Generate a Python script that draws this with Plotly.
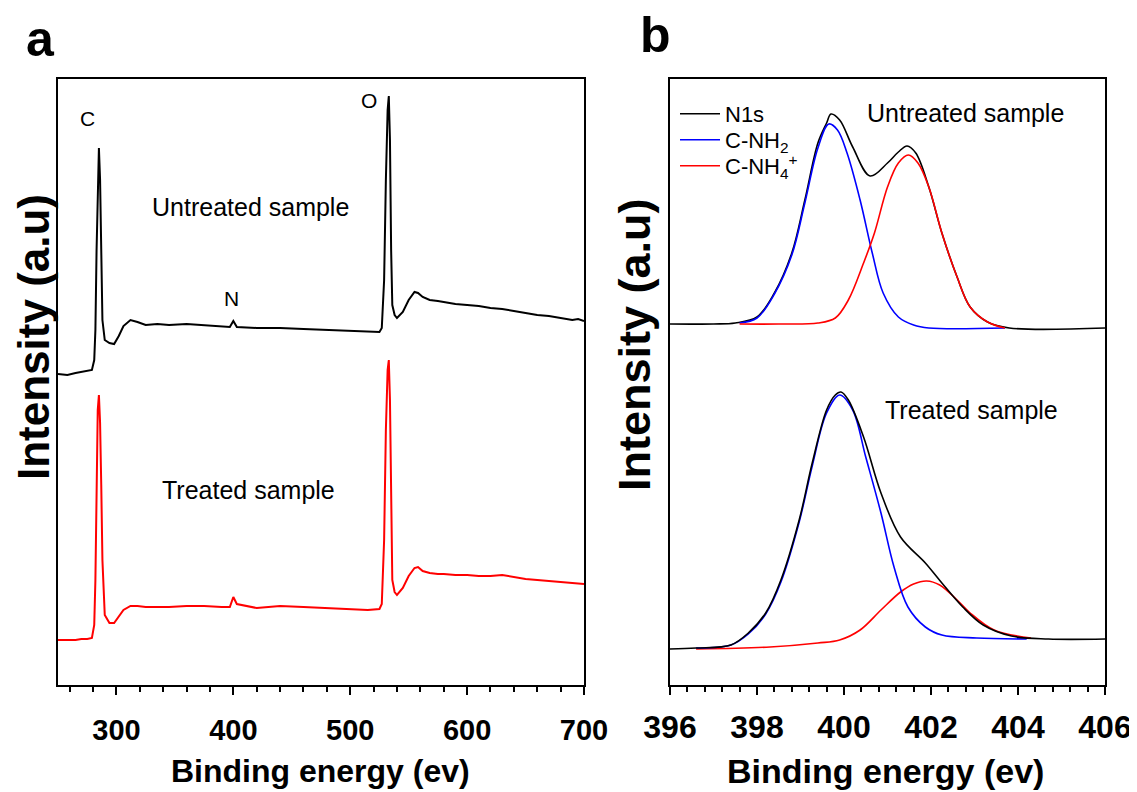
import plotly.graph_objects as go

# ---------------- Panel a: XPS survey ----------------
survey_ev = [250, 258, 265, 270, 275, 279, 281, 282, 283, 284, 285, 286, 287, 288, 290, 294, 298, 302, 306,
             312, 318, 325, 335, 345, 360, 375, 390, 397, 400, 403, 420, 440, 460, 480, 500, 515, 525, 527,
             529, 530.5, 532, 533, 534, 535, 536, 538, 540, 545, 550, 555, 558, 562, 568, 575, 580, 590, 600,
             610, 620, 630, 640, 650, 660, 670, 680, 690, 695, 700]
untreated_survey = [311, 310, 312, 313, 314, 315, 325, 355, 435, 505, 537, 505, 425, 365, 345, 342, 341, 349, 359,
                    365, 363, 360, 361, 360, 361, 360, 359, 358, 364, 358, 357, 357, 356, 355, 354, 353, 353, 357,
                    405, 505, 575, 589, 545, 435, 380, 370, 367, 373, 385, 393, 392, 388, 385, 384, 383, 381, 380,
                    379, 377, 376, 374, 372, 370, 369, 367, 365, 366, 364]
treated_survey = [45, 45, 45, 46, 46, 47, 60, 105, 205, 275, 290, 262, 200, 125, 70, 62, 62, 68, 75,
                  79, 79, 78, 78, 78, 79, 79, 78, 78, 88, 81, 77, 79, 78, 77, 76, 75, 76, 81,
                  145, 255, 315, 325, 285, 185, 105, 93, 90, 97, 109, 117, 118, 114, 112, 111, 111, 110, 110,
                  109, 109, 110, 108, 106, 105, 104, 103, 102, 102, 101]

# ---------------- Panel b: N1s high resolution ----------------
u_n1s_ev = [396.0, 397.0, 397.5, 398.0, 398.4, 398.8, 399.1, 399.4, 399.6, 399.7, 399.9, 400.2, 400.6,
            401.0, 401.25, 401.45, 401.65, 401.95, 402.25, 402.6, 402.9, 403.3, 403.8, 406.0]
u_n1s = [361, 361, 362, 368, 392, 432, 485, 542, 562, 571, 565, 538, 509,
         522, 533, 539, 532, 498, 452, 408, 378, 363, 357, 357]
u_nh2_ev = [397.6, 398.0, 398.4, 398.8, 399.1, 399.4, 399.65, 399.85, 400.07, 400.37, 400.65, 400.9,
            401.25, 401.6, 401.95, 403.7]
u_nh2 = [362, 367, 391, 430, 482, 537, 561, 555, 532, 485, 432, 392, 368, 360, 357, 357]
u_nh4_ev = [397.6, 398.5, 399.4, 399.8, 400.1, 400.45, 400.7, 401.0, 401.25, 401.48, 401.7, 401.95,
            402.25, 402.6, 402.9, 403.3, 403.7]
u_nh4 = [361, 361, 362, 367, 385, 422, 452, 498, 522, 530, 522, 498, 452, 408, 378, 363, 357]

t_n1s_ev = [396.0, 396.6, 397.4, 397.8, 398.2, 398.55, 398.97, 399.27, 399.6, 399.8, 399.93, 400.1, 400.45,
            400.85, 401.3, 401.87, 402.25, 402.73, 403.2, 403.85, 404.7, 406.0]
t_n1s = [36, 37, 40, 52, 72, 105, 165, 222, 275, 290, 293, 285, 248,
         192, 148, 122, 102, 78, 60, 49, 46, 46]
t_nh2_ev = [396.6, 397.4, 397.8, 398.2, 398.55, 398.97, 399.27, 399.6, 399.9, 400.2, 400.5, 400.85,
            401.15, 401.47, 401.87, 402.25, 403.05, 404.2]
t_nh2 = [37, 40, 51, 71, 103, 163, 219, 272, 290, 275, 228, 172, 118, 78, 58, 50, 47, 46]
t_nh4_ev = [396.6, 398.3, 399.4, 399.9, 400.37, 400.85, 401.3, 401.6, 401.9, 402.2, 402.6, 402.9,
            403.45, 404.3]
t_nh4 = [36, 38, 42, 45, 55, 75, 93, 101, 104, 100, 85, 72, 55, 47]

survey_ticks = [300, 400, 500, 600, 700]
n1s_ticks = [396, 398, 400, 402, 404, 406]
legend_names = ["N1s", "C-NH<sub>2</sub>", "C-NH<sub>4</sub><sup>+</sup>"]

BLACK, RED, BLUE = "#000000", "#ff0000", "#0000ff"
SANS = "Liberation Sans, Arial, sans-serif"

# the page body has an 8px default margin: size the figure to fill the rest of the window
OFF = 8
W, H = 1137 - OFF, 792 - OFF


def xp(px):
    return (px - OFF) / W


def yp(py):
    return 1 - (py - OFF) / H


fig = go.Figure()

# Panel a traces
fig.add_trace(go.Scatter(x=survey_ev, y=untreated_survey, mode="lines", line=dict(color=BLACK, width=2),
                         showlegend=False, xaxis="x", yaxis="y"))
fig.add_trace(go.Scatter(x=survey_ev, y=treated_survey, mode="lines", line=dict(color=RED, width=2),
                         showlegend=False, xaxis="x", yaxis="y"))

# Panel b traces
lw = 1.6
fig.add_trace(go.Scatter(x=u_n1s_ev, y=u_n1s, mode="lines", name=legend_names[0], legend="legend",
                         line=dict(color=BLACK, width=lw, shape="spline"), xaxis="x2", yaxis="y2"))
fig.add_trace(go.Scatter(x=u_nh2_ev, y=u_nh2, mode="lines", name=legend_names[1], legend="legend2",
                         line=dict(color=BLUE, width=lw, shape="spline"), xaxis="x2", yaxis="y2"))
fig.add_trace(go.Scatter(x=u_nh4_ev, y=u_nh4, mode="lines", name=legend_names[2], legend="legend3",
                         line=dict(color=RED, width=lw, shape="spline"), xaxis="x2", yaxis="y2"))
fig.add_trace(go.Scatter(x=t_nh4_ev, y=t_nh4, mode="lines", line=dict(color=RED, width=lw, shape="spline"),
                         showlegend=False, xaxis="x2", yaxis="y2"))
fig.add_trace(go.Scatter(x=t_nh2_ev, y=t_nh2, mode="lines", line=dict(color=BLUE, width=lw, shape="spline"),
                         showlegend=False, xaxis="x2", yaxis="y2"))
fig.add_trace(go.Scatter(x=t_n1s_ev, y=t_n1s, mode="lines", line=dict(color=BLACK, width=lw, shape="spline"),
                         showlegend=False, xaxis="x2", yaxis="y2"))

ydom = [yp(685), yp(79)]

common_x = dict(showline=True, mirror=True, linecolor="black", linewidth=2, ticks="outside",
                ticklen=8, tickwidth=1.5, tickcolor="black", showgrid=False, zeroline=False)
common_y = dict(showline=True, mirror=True, linecolor="black", linewidth=2, ticks="",
                showticklabels=False, showgrid=False, zeroline=False)


def legend_at(py):
    return dict(x=xp(675), y=yp(py), xanchor="left", yanchor="middle",
                font=dict(family=SANS, size=22, color="black"),
                bgcolor="rgba(0,0,0,0)", itemwidth=40)


fig.update_layout(
    width=W, height=H,
    margin=dict(l=0, r=0, t=0, b=0, autoexpand=False),
    paper_bgcolor="white", plot_bgcolor="white",
    xaxis=dict(domain=[xp(58), xp(584)], range=[250, 700], tickvals=survey_ticks,
               ticktext=[f"<b>{v}</b>" for v in survey_ticks],
               tickfont=dict(family=SANS, size=29, color="black"), ticklabelstandoff=10,
               minor=dict(dtick=20, ticklen=5, tickwidth=1.5, tickcolor="black", ticks="outside"),
               anchor="y", **common_x),
    yaxis=dict(domain=ydom, range=[0, 606], anchor="x", **common_y),
    xaxis2=dict(domain=[xp(670), xp(1105)], range=[396, 406], tickvals=n1s_ticks,
                ticktext=[f"<b>{v}</b>" for v in n1s_ticks],
                tickfont=dict(family=SANS, size=32, color="black"), ticklabelstandoff=5,
                minor=dict(dtick=0.4, tick0=396, ticklen=5, tickwidth=1.5, tickcolor="black", ticks="outside"),
                anchor="y2", **common_x),
    yaxis2=dict(domain=ydom, range=[0, 606], anchor="x2", **common_y),
    legend=legend_at(114),
    legend2=legend_at(140),
    legend3=legend_at(166),
)

txt = dict(family=SANS, color="black")
ann = [
    # panel a labels
    dict(x=275.6, y=567, xref="x", yref="y", text="C", font=dict(size=21, **txt)),
    dict(x=398.6, y=387, xref="x", yref="y", text="N", font=dict(size=21, **txt)),
    dict(x=516.4, y=585, xref="x", yref="y", text="O", font=dict(size=21, **txt)),
    dict(x=414.8, y=478, xref="x", yref="y", text="Untreated sample", font=dict(size=25, **txt)),
    dict(x=413.0, y=195, xref="x", yref="y", text="Treated sample", font=dict(size=25, **txt)),
    # panel b labels
    dict(x=402.8, y=572, xref="x2", yref="y2", text="Untreated sample", font=dict(size=25, **txt)),
    dict(x=402.94, y=275, xref="x2", yref="y2", text="Treated sample", font=dict(size=25, **txt)),
    # axis titles
    dict(x=xp(33), y=yp(337), xref="paper", yref="paper", text="<b>Intensity (a.u)</b>", textangle=-90,
         font=dict(size=44, **txt)),
    dict(x=xp(634), y=yp(345), xref="paper", yref="paper", text="<b>Intensity (a.u)</b>", textangle=-90,
         font=dict(size=45, **txt)),
    dict(x=xp(320), y=yp(771), xref="paper", yref="paper", text="<b>Binding energy (ev)</b>",
         font=dict(size=32, **txt)),
    dict(x=xp(885), y=yp(771), xref="paper", yref="paper", text="<b>Binding energy (ev)</b>",
         font=dict(size=34, **txt)),
    # panel letters
    dict(x=xp(40), y=yp(39), xref="paper", yref="paper", text="<b>a</b>", font=dict(size=50, **txt)),
    dict(x=xp(655), y=yp(35), xref="paper", yref="paper", text="<b>b</b>", font=dict(size=50, **txt)),
]
for a in ann:
    a.setdefault("showarrow", False)
    a.setdefault("xanchor", "center")
    a.setdefault("yanchor", "middle")
fig.update_layout(annotations=ann)

fig.write_html("out.html")
